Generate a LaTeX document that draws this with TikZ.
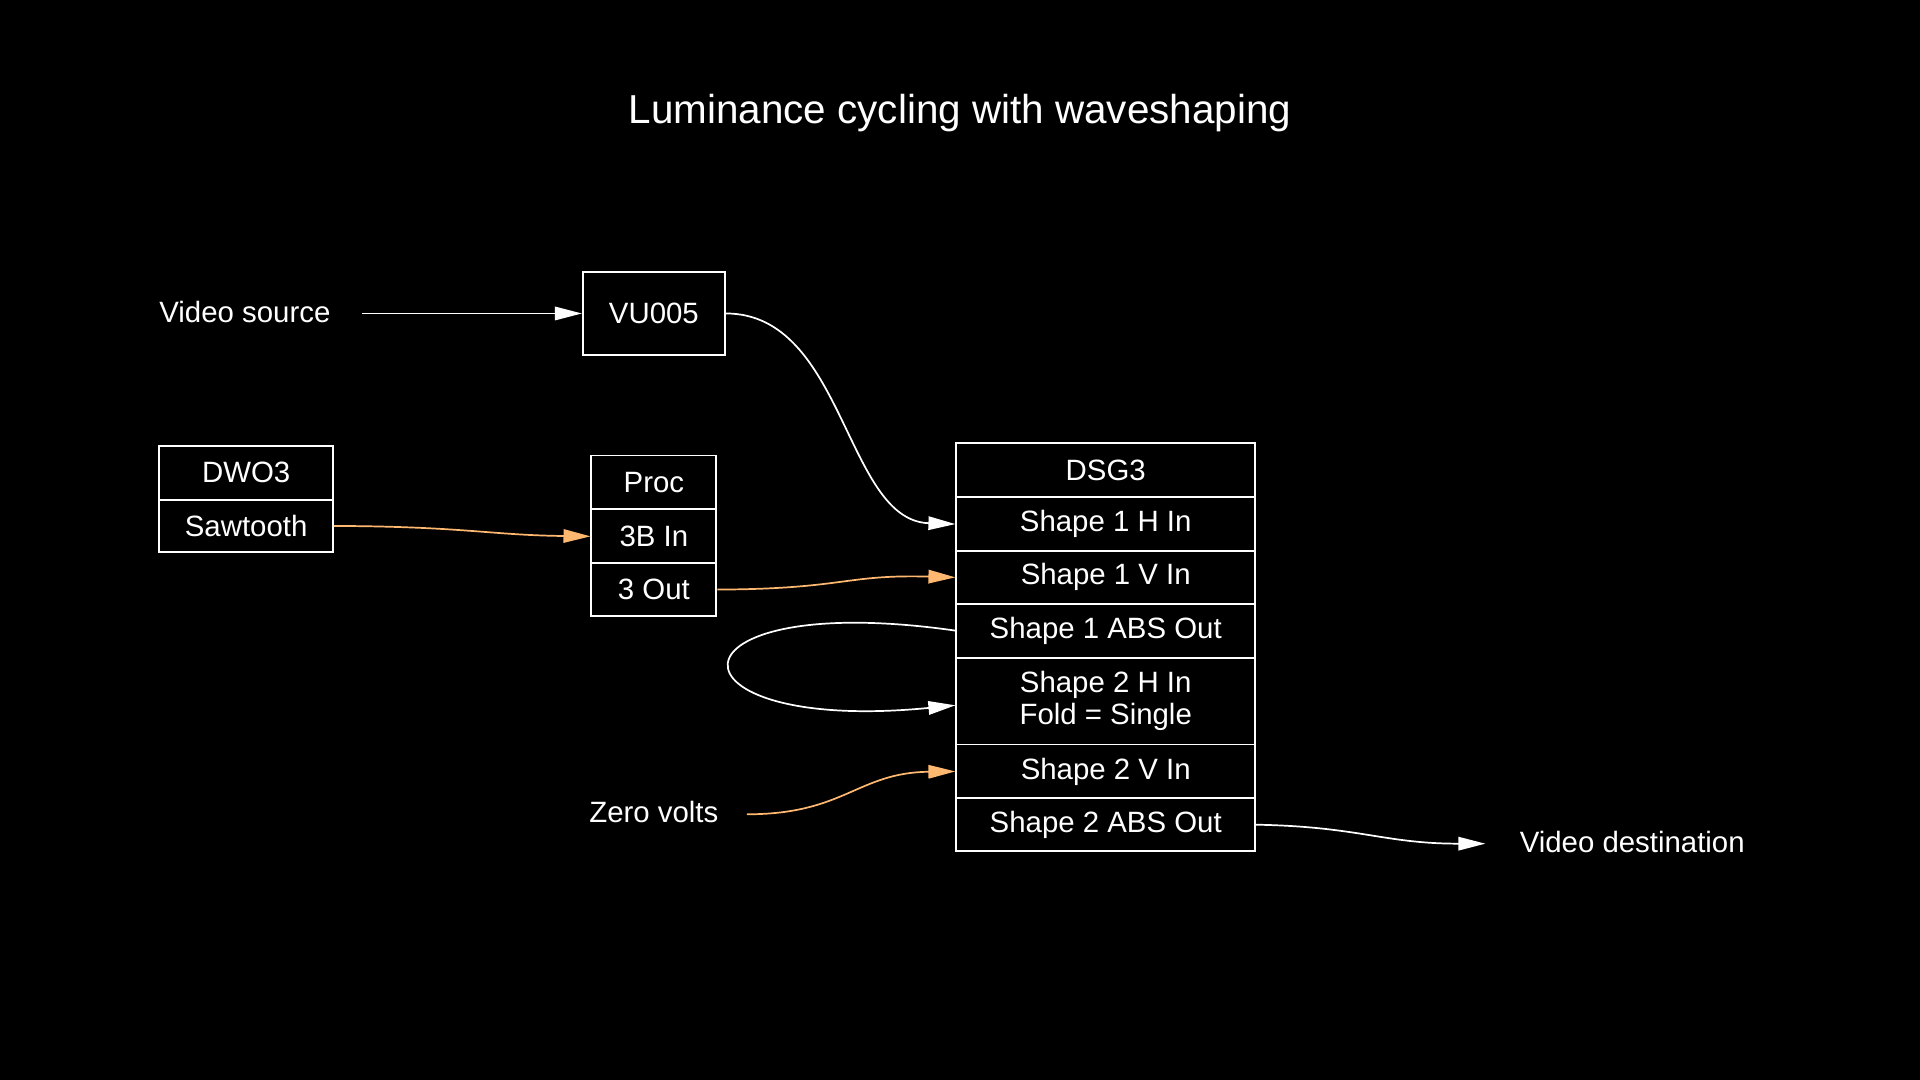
\documentclass[tikz,border=0pt]{standalone}
\usepackage{fontspec}
\setmainfont{Liberation Sans}
\usetikzlibrary{arrows.meta}
\definecolor{org}{HTML}{FFB870}
\begin{document}
\begin{tikzpicture}[x=0.5pt,y=-0.5pt,
  cell/.style={draw=white,line width=0.8pt,text=white,inner sep=0pt,font=\fontsize{12}{14}\selectfont,align=center},
  lbl/.style={text=white,inner sep=0pt,font=\fontsize{12}{14}\selectfont},
  wire/.style={line width=0.7pt,-{Triangle[length=11pt,width=5.5pt]}},
  ww/.style={wire,draw=white},
  ow/.style={wire,draw=org}]
\fill[black] (0,0) rectangle (1568,882);
\useasboundingbox (0,0) rectangle (1568,882);
\node[lbl,font=\fontsize{16.5}{18}\selectfont] (title) at (784,92) {Luminance cycling with waveshaping};
\node[lbl] (vsrc) at (200,255) {Video source};
\coordinate (vsrcE) at (296,256);
\node[cell,minimum width=58pt,minimum height=34pt] (vu) at (534,256) {VU005};
% DWO3
\node[cell,minimum width=71pt,minimum height=22pt] (dwo) at (201,386) {DWO3};
\node[cell,minimum width=71pt,minimum height=21.5pt] (saw) at (201,429.5) {Sawtooth};
% Proc
\node[cell,minimum width=51pt,minimum height=22pt] (proc) at (534,394) {Proc};
\node[cell,minimum width=51pt,minimum height=22pt] (p3b) at (534,438) {3B In};
\node[cell,minimum width=51pt,minimum height=21.5pt] (p3o) at (534,481.5) {3 Out};
% DSG3
\node[cell,minimum width=122pt,minimum height=22pt] (dsg) at (903,384) {DSG3};
\node[cell,minimum width=122pt,minimum height=22pt] (s1h) at (903,428) {Shape 1 H In};
\node[cell,minimum width=122pt,minimum height=21.5pt] (s1v) at (903,471.5) {Shape 1 V In};
\node[cell,minimum width=122pt,minimum height=22pt] (s1a) at (903,515) {Shape 1 ABS Out};
\node[cell,minimum width=122pt,minimum height=35.5pt] (s2h) at (903,572.5) {Shape 2 H In\\[-1pt]Fold = Single};
\node[cell,minimum width=122pt,minimum height=22pt] (s2v) at (903,630) {Shape 2 V In};
\node[cell,minimum width=122pt,minimum height=21.5pt] (s2a) at (903,673.5) {Shape 2 ABS Out};
\node[lbl] (zero) at (534,663) {Zero volts};
\coordinate (zeroE) at (610,665);
\node[lbl] (vdst) at (1333,688) {Video destination};
\coordinate (vdstW) at (1213,689);
% wires
\draw[ww] (vsrcE) -- (vu.west);
\draw[ww] (vu.east) .. controls (690,256) and (690,425) .. (s1h.west);
\draw[ow] (saw.east) .. controls (380,430) and (400,437) .. (p3b.west);
\draw[ow] (p3o.east) .. controls (690,481) and (690,469) .. (s1v.west);
\draw[ww] (s1a.west) .. controls (536,480) and (536,600) .. (s2h.west |- 0,576);
\draw[ow] (zeroE) .. controls (690,665) and (700,631) .. (s2v.west);
\draw[ww] (s2a.east) .. controls (1110,675) and (1130,689) .. (vdstW);
\end{tikzpicture}
\end{document}
